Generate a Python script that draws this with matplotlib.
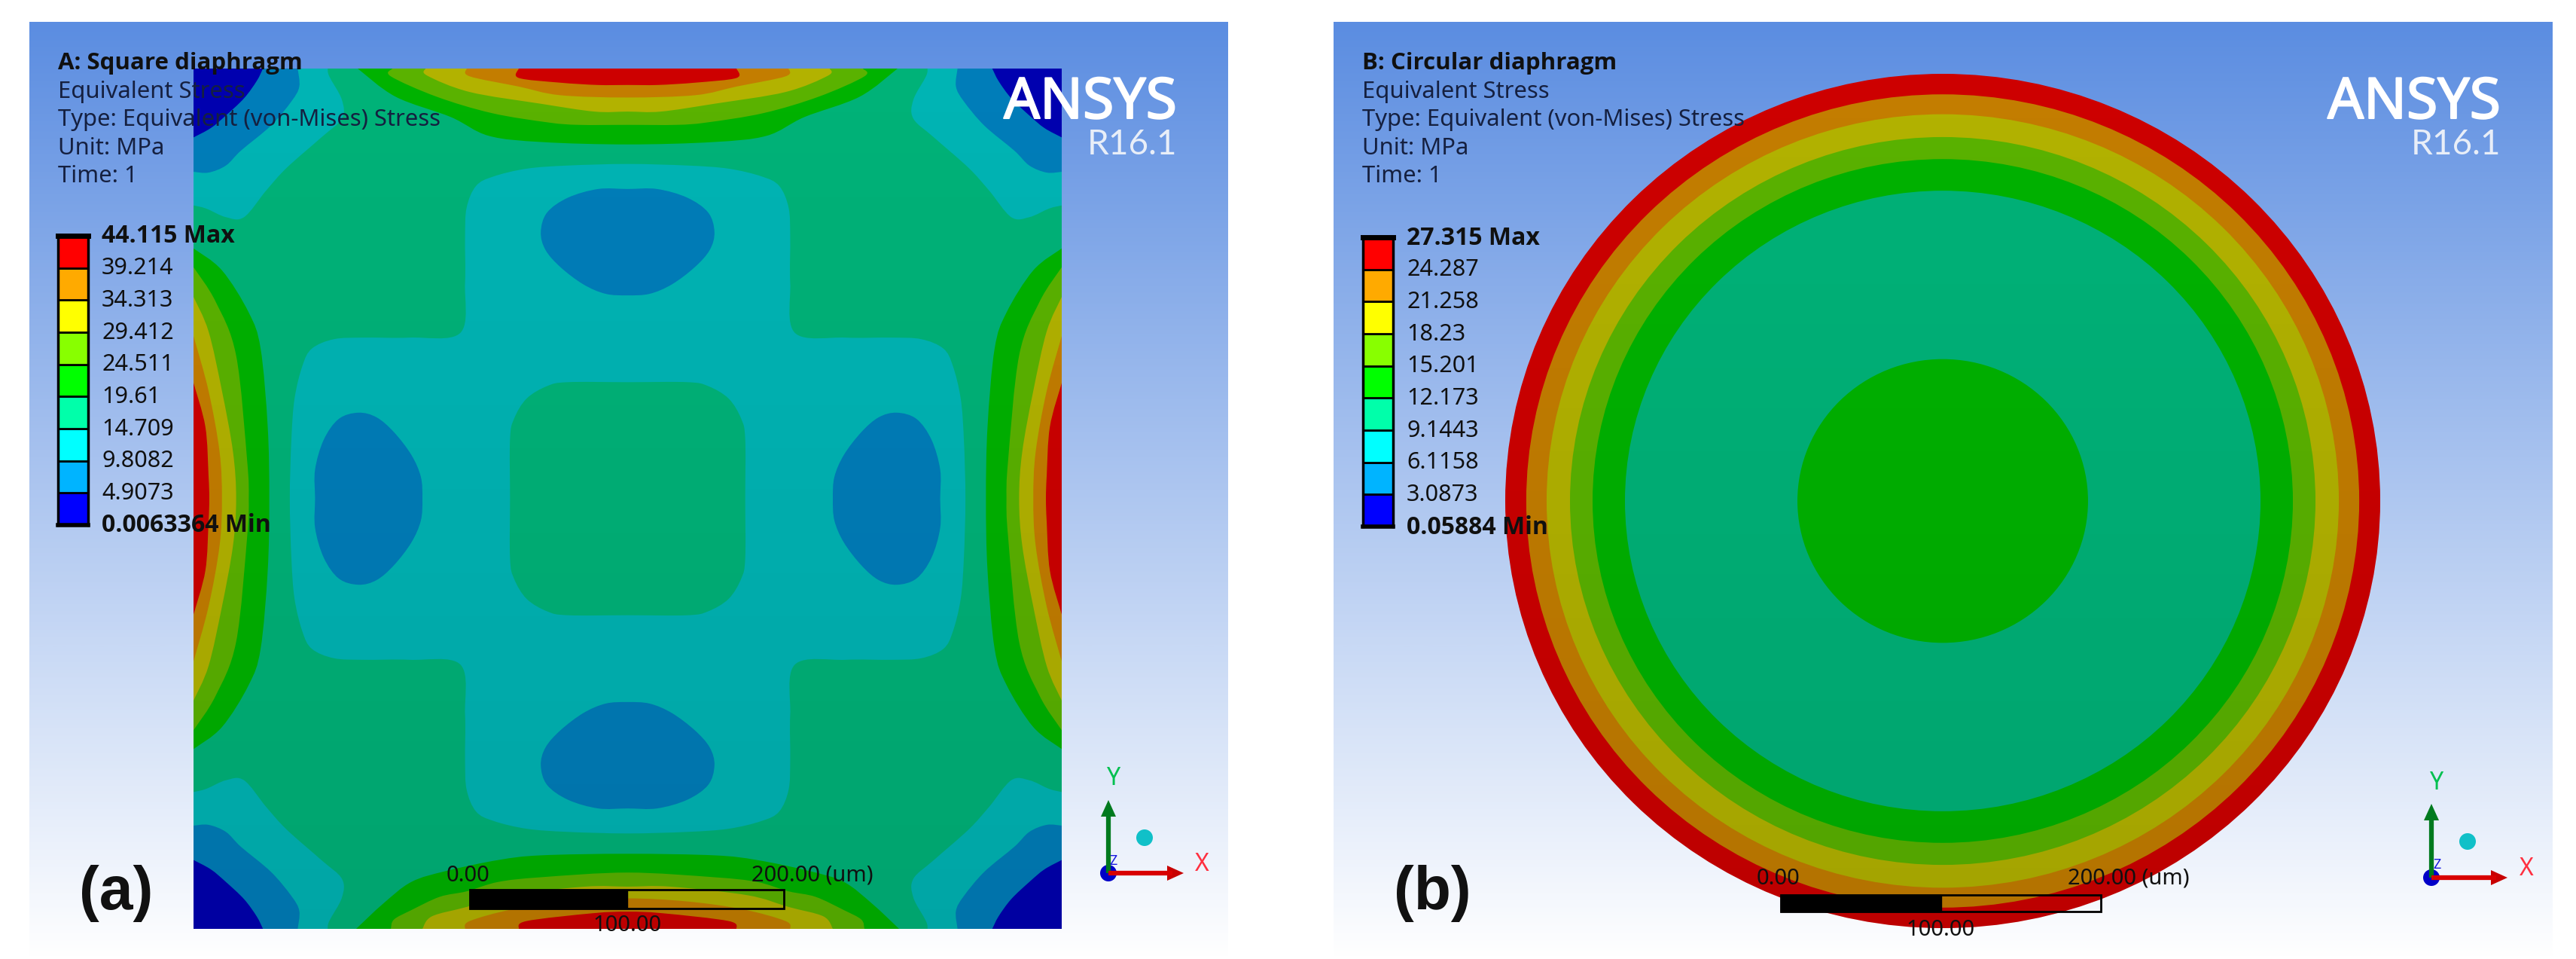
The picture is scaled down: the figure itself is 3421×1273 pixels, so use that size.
import matplotlib

matplotlib.use("Agg")
import matplotlib.patheffects as pe
import matplotlib.pyplot as plt
import numpy as np
from matplotlib.colors import LinearSegmentedColormap
from matplotlib.patches import Circle, PathPatch, Polygon, Rectangle
from matplotlib.path import Path
from matplotlib.transforms import ScaledTranslation

W, H = 3421, 1273
UI_FONT = ["Noto Sans", "DejaVu Sans"]
BOLD_FONT = ["Open Sans", "DejaVu Sans"]

# contour band colours, low to high stress (as shaded on the model)
DARK_BLUE = "#0000AF"
BLUE = "#007DB9"
TEAL = "#00B4B4"
SEA_GREEN = "#00B278"
GREEN = "#00B200"
LIME = "#5AB200"
YELLOW = "#B2B200"
ORANGE = "#C37D00"
RED = "#CD0000"

# legend swatches, top to bottom
LEGEND_COLORS = ["#FF0000", "#FFAA00", "#FFFF00", "#88FF00", "#00FF00",
                 "#00FFAA", "#00FFFF", "#00B4FF", "#0000FF"]
LABELS_A = ["44.115 Max", "39.214", "34.313", "29.412", "24.511", "19.61",
            "14.709", "9.8082", "4.9073", "0.0063364 Min"]
LABELS_B = ["27.315 Max", "24.287", "21.258", "18.23", "15.201", "12.173",
            "9.1443", "6.1158", "3.0873", "0.05884 Min"]
HEADER_LINES = ["Equivalent Stress", "Type: Equivalent (von-Mises) Stress", "Unit: MPa", "Time: 1"]

# square diaphragm, half width in um
SQUARE_HALF = 275
# edge lobes: (distance along the edge from mid-side, depth from the edge), tip to centre
TOP_GREEN = [(171, 0), (147, 18), (112, 31), (88, 43), (54, 47), (0, 48.5)]
TOP_LIME = [(149, 0), (150, 5), (121, 18), (86, 28.5), (50, 34.5), (31, 36), (0, 36)]
TOP_YELLOW = [(128, 0), (127, 4.5), (100, 15), (55, 22.5), (21, 27.5), (0, 27.5)]
TOP_ORANGE = [(102, 0), (100, 5), (69, 11.5), (43, 17), (0, 18.5)]
TOP_RED = [(69, 0), (69, 6), (43, 9), (19, 10.5), (0, 10.5)]

BOTTOM_GREEN = [(172, 0), (155, 16), (137, 30), (115, 37), (82, 44), (55, 47), (0, 48)]
BOTTOM_LIME = [(150, 0), (148, 6), (137, 12), (119, 20.5), (102, 24), (82, 30), (55, 33), (0, 36)]
BOTTOM_YELLOW = [(130, 0), (124, 8), (102, 14), (76, 21.5), (27, 27), (0, 27)]
BOTTOM_ORANGE = [(103, 0), (100, 5), (73, 12.5), (38, 17.5), (0, 19.5)]
BOTTOM_RED = [(69, 0), (64, 5), (22, 10), (0, 11)]

SIDE_GREEN = [(160, 0), (146, 18), (119, 35), (96, 42.5), (46, 47), (0, 48)]
SIDE_LIME = [(148, 0), (126, 14), (91.5, 27), (24, 34), (0, 35)]
SIDE_YELLOW = [(129, 0), (107, 9.5), (69, 18), (30, 25), (0, 27)]
SIDE_ORANGE = [(104, 0), (69, 9.5), (30, 16.5), (0, 18)]
SIDE_RED = [(74, 0), (46, 7.5), (15, 9.5), (0, 10)]

# corners: (distance from the vertical edge, distance from the horizontal edge)
CORNER_DARK = [(44, 0), (40, 8), (32, 19), (20.5, 30), (11, 38), (0, 44)]
CORNER_BLUE = [(66, 0), (67, 11.5), (62, 21), (49, 36.5), (30, 52.5), (20.5, 62), (9.5, 66.5), (0, 66)]
CORNER_TEAL = [(85, 0), (86, 5), (94, 20), (94, 32), (81, 44), (59, 63.5), (46, 78),
               (32, 95), (20.5, 95), (8, 89.5), (0, 87.5)]
# one eighth of the centre shapes, from the axis to the diagonal
CROSS_OCTANT = [(0, 214), (38, 213), (64, 211), (85, 206), (96, 200), (102, 186), (103, 167), (103, 138), (106, 106)]
CENTRE_OCTANT = [(0, 74.5), (38, 74.5), (51, 72), (64, 64)]
# blue lobe: (half width, distance from centre), near side to far side
LOBE_HALF = [(0, 130), (14, 131), (28, 137), (42.5, 148), (52, 159), (55, 170.5), (51, 183), (37.7, 192.5), (18.6, 198), (0, 198)]

# circular diaphragm, outer radius of each ring in um
RING_RADII = [277, 263.7, 250.8, 236, 221.7, 201.2, 92]
RING_COLORS = [RED, ORANGE, YELLOW, LIME, GREEN, SEA_GREEN, GREEN]


def curve_path(pts, closed=False, tail=()):
    # smooth line through the points, drawn with matplotlib bezier segments
    pts = np.asarray(pts, float)
    n = len(pts)
    verts = [pts[0]]
    codes = [Path.MOVETO]
    for i in range(n if closed else n - 1):
        p1, p2 = pts[i], pts[(i + 1) % n]
        p0 = pts[(i - 1) % n] if closed or i > 0 else p1
        p3 = pts[(i + 2) % n] if closed or i + 2 < n else p2
        verts += [p1 + (p2 - p0) / 6, p2 - (p3 - p1) / 6, p2]
        codes += [Path.CURVE4] * 3
    for t in tail:
        verts.append(t)
        codes.append(Path.LINETO)
    verts.append(pts[0])
    codes.append(Path.CLOSEPOLY)
    return Path(verts, codes)


def d4_loop(octant):
    q = octant + [(y, x) for x, y in octant[-2::-1]]
    half = q + [(x, -y) for x, y in q[-2::-1]]
    return half + [(-x, y) for x, y in half[-2:0:-1]]


def add_shape(ax, path, color):
    ax.add_patch(PathPatch(path, facecolor=color, edgecolor="none", lw=0))


def add_shade(ax, half, clip=None):
    # the model gets a little darker towards the bottom
    rgba = np.zeros((256, 1, 4))
    rgba[:, 0, 3] = np.linspace(0, 0.08, 256)
    im = ax.imshow(rgba, extent=(-half, half, -half, half), aspect="auto", origin="upper", zorder=5)
    if clip is not None:
        im.set_clip_path(clip)
    ax.set_xlim(-half, half)
    ax.set_ylim(-half, half)


def px_axes(x0, y0, x1, y1):
    return fig.add_axes([x0 / W, 1 - y1 / H, (x1 - x0) / W, (y1 - y0) / H])


def draw_square(ax):
    h = SQUARE_HALF
    ax.add_patch(Rectangle((-h, -h), 2 * h, 2 * h, facecolor=SEA_GREEN, edgecolor="none"))
    add_shape(ax, curve_path(d4_loop(CROSS_OCTANT), closed=True), TEAL)
    add_shape(ax, curve_path(d4_loop(CENTRE_OCTANT), closed=True), SEA_GREEN)

    lobe = LOBE_HALF + [(-w, d) for w, d in LOBE_HALF[-2:0:-1]]
    for place in [lambda w, d: (w, d), lambda w, d: (w, -d), lambda w, d: (-d, w), lambda w, d: (d, w)]:
        add_shape(ax, curve_path([place(w, d) for w, d in lobe], closed=True), BLUE)

    for corner, color in [(CORNER_TEAL, TEAL), (CORNER_BLUE, BLUE), (CORNER_DARK, DARK_BLUE)]:
        for sx, sy in [(-1, 1), (1, 1), (-1, -1), (1, -1)]:
            pts = [(sx * (h - a), sy * (h - b)) for a, b in corner]
            a0, bn = corner[0][0], corner[-1][1]
            tail = [(sx * (h + 15), sy * (h - bn)), (sx * (h + 15), sy * (h + 15)), (sx * (h - a0), sy * (h + 15))]
            add_shape(ax, curve_path(pts, tail=tail), color)

    band_colors = [GREEN, LIME, YELLOW, ORANGE, RED]
    edge_sets = [
        (lambda u, d: (u, h - d), [TOP_GREEN, TOP_LIME, TOP_YELLOW, TOP_ORANGE, TOP_RED]),
        (lambda u, d: (u, -h + d), [BOTTOM_GREEN, BOTTOM_LIME, BOTTOM_YELLOW, BOTTOM_ORANGE, BOTTOM_RED]),
        (lambda u, d: (-h + d, u), [SIDE_GREEN, SIDE_LIME, SIDE_YELLOW, SIDE_ORANGE, SIDE_RED]),
        (lambda u, d: (h - d, u), [SIDE_GREEN, SIDE_LIME, SIDE_YELLOW, SIDE_ORANGE, SIDE_RED]),
    ]
    for edge, bands in edge_sets:
        for band, color in zip(bands, band_colors):
            outline = [(-u, d) for u, d in band] + [(u, d) for u, d in band[-2::-1]]
            hw = band[0][0]
            add_shape(ax, curve_path([edge(u, d) for u, d in outline], tail=[edge(hw, -15), edge(-hw, -15)]), color)
    ax.set_xlim(-h, h)
    ax.set_ylim(-h, h)
    add_shade(ax, h)
    ax.axis("off")


def draw_circle(ax):
    outer = None
    for r, color in zip(RING_RADII, RING_COLORS):
        c = Circle((0, 0), r, facecolor=color, edgecolor="none")
        ax.add_patch(c)
        outer = outer or c
    add_shade(ax, RING_RADII[0], clip=outer)
    ax.axis("off")


def draw_legend(x0, y0, y1, labels):
    ax = px_axes(x0, y0, x0 + 40, y1)
    for i, color in enumerate(LEGEND_COLORS[::-1]):
        ax.bar(0, 1, bottom=i, width=1, color=color, edgecolor="black", lw=2)
    ax.set_xlim(-0.5, 0.5)
    ax.set_ylim(0, 9)
    ax.set_xticks([])
    ax.set_yticks(range(10))
    ax.set_yticklabels(labels[::-1], family=UI_FONT, fontsize=22, color="#101010")
    ax.yaxis.tick_right()
    ax.tick_params(axis="y", length=0, pad=13)
    nudge = ScaledTranslation(0, 3 / 100, fig.dpi_scale_trans)
    tl = ax.get_yticklabels()
    for t in tl:
        t.set_transform(t.get_transform() + nudge)
    for t in (tl[0], tl[-1]):
        t.set_fontfamily(BOLD_FONT)
        t.set_fontweight("bold")
        t.set_fontsize(23)
    for s in ax.spines.values():
        s.set_linewidth(2.5)
    ax.spines["top"].set_linewidth(5)
    ax.spines["bottom"].set_linewidth(4)
    ax.set_zorder(4)


def draw_header(ax, x, title):
    ax.text(x, 84, title, family=BOLD_FONT, fontsize=22.5, fontweight="bold", va="center", color="#101010")
    for y, line in zip([122, 159, 197, 234], HEADER_LINES):
        ax.text(x, y, line, family=UI_FONT, fontsize=22.3, va="center", color="#152040")


def draw_brand(ax, right):
    ax.text(right, 157, "ANSYS", family=UI_FONT, fontsize=54, color="white", ha="right", va="baseline",
            path_effects=[pe.withStroke(linewidth=1.5, foreground="white")])
    ax.text(right, 205, "R16.1", family=["Lato", "DejaVu Sans"], fontsize=33, color="#E8EEF8", ha="right", va="baseline")


def draw_scale(ax, x0, x1, y0, y1, label_top, label_bottom, unit_left):
    mid = (x0 + x1) / 2
    ax.add_patch(Rectangle((x0, y0), mid - x0, y1 - y0, facecolor="black", edgecolor="black"))
    ax.add_patch(Rectangle((x0, y0), x1 - x0, y1 - y0, facecolor="none", edgecolor="black", lw=2))
    kw = dict(family=UI_FONT, fontsize=21, va="center", color="#101010")
    ax.text(x0 - 3, label_top, "0.00", ha="center", **kw)
    ax.text(unit_left, label_top, "200.00 (um)", ha="left", **kw)
    ax.text(mid, label_bottom, "100.00", ha="center", **kw)


def draw_triad(ax, ox, oy, xtip, ytip, sphere, ytext, xtext, ztext):
    ax.plot([ox, ox], [oy, ytip + 15], color="#007A1E", lw=4.5, solid_capstyle="butt")
    ax.add_patch(Polygon([(ox, ytip), (ox - 10, ytip + 22), (ox + 10, ytip + 22)], facecolor="#007A1E", edgecolor="none"))
    ax.plot([ox, xtip - 15], [oy, oy], color="#D80000", lw=4.5, solid_capstyle="butt")
    ax.add_patch(Polygon([(xtip, oy), (xtip - 22, oy - 10), (xtip - 22, oy + 10)], facecolor="#C80000", edgecolor="none"))
    ax.add_patch(Circle((ox, oy), 11, facecolor="#0000C8", edgecolor="none"))
    ax.add_patch(Circle(sphere, 11, facecolor="#10C0C8", edgecolor="none"))
    kw = dict(family=UI_FONT, fontsize=23, ha="center", va="center")
    ax.text(*ytext, "Y", color="#00C050", **kw)
    ax.text(*xtext, "X", color="#FF3040", **kw)
    ax.text(*ztext, "Z", color="#1818E0", family=UI_FONT, fontsize=13, ha="center", va="center")


fig = plt.figure(figsize=(W / 100, H / 100), dpi=100, facecolor="white")

# backdrop
ax_bg = px_axes(0, 0, W, H)
backdrop = LinearSegmentedColormap.from_list("backdrop", ["#5B8DE1", "#FFFFFF"])
ramp = np.linspace(0, 1, 512)[:, None]
for x0, x1 in [(39, 1631), (1771, 3390)]:
    ax_bg.imshow(ramp, cmap=backdrop, extent=(x0, x1, 1273, 29), aspect="auto", origin="upper")
ax_bg.set_xlim(0, W)
ax_bg.set_ylim(H, 0)
ax_bg.axis("off")

# models
ax_sq = px_axes(257, 91, 1410, 1233)
ax_sq.set_zorder(1)
draw_square(ax_sq)
ax_ci = px_axes(1999, 98, 3161, 1232)
ax_ci.set_xlim(-277, 277)
ax_ci.set_ylim(-277, 277)
ax_ci.set_zorder(1)
draw_circle(ax_ci)

# annotation layer in picture pixels
ax_top = px_axes(0, 0, W, H)
ax_top.set_xlim(0, W)
ax_top.set_ylim(H, 0)
ax_top.axis("off")
ax_top.set_zorder(3)

draw_header(ax_top, 77, "A: Square diaphragm")
draw_header(ax_top, 1809, "B: Circular diaphragm")
draw_legend(77, 313, 697, LABELS_A)
draw_legend(1810, 315, 699, LABELS_B)
draw_brand(ax_top, 1563)
draw_brand(ax_top, 3321)
draw_scale(ax_top, 624, 1041, 1181, 1206, 1162, 1229, 998)
draw_scale(ax_top, 2365, 2790, 1188, 1210, 1166, 1235, 2746)
draw_triad(ax_top, 1472, 1159, 1572, 1062, (1520, 1112), (1479, 1034), (1596, 1148), (1479, 1143))
draw_triad(ax_top, 3229, 1165, 3330, 1067, (3277, 1117), (3236, 1039), (3355, 1154), (3237, 1148))
for x, text in [(154, "(a)"), (1902, "(b)")]:
    ax_top.text(x, 1186, text, family=["Liberation Sans", "DejaVu Sans"], fontsize=58, fontweight="bold",
                ha="center", va="center", color="#111111")

fig.savefig("out.png", dpi=100, facecolor="white")
plt.close(fig)
